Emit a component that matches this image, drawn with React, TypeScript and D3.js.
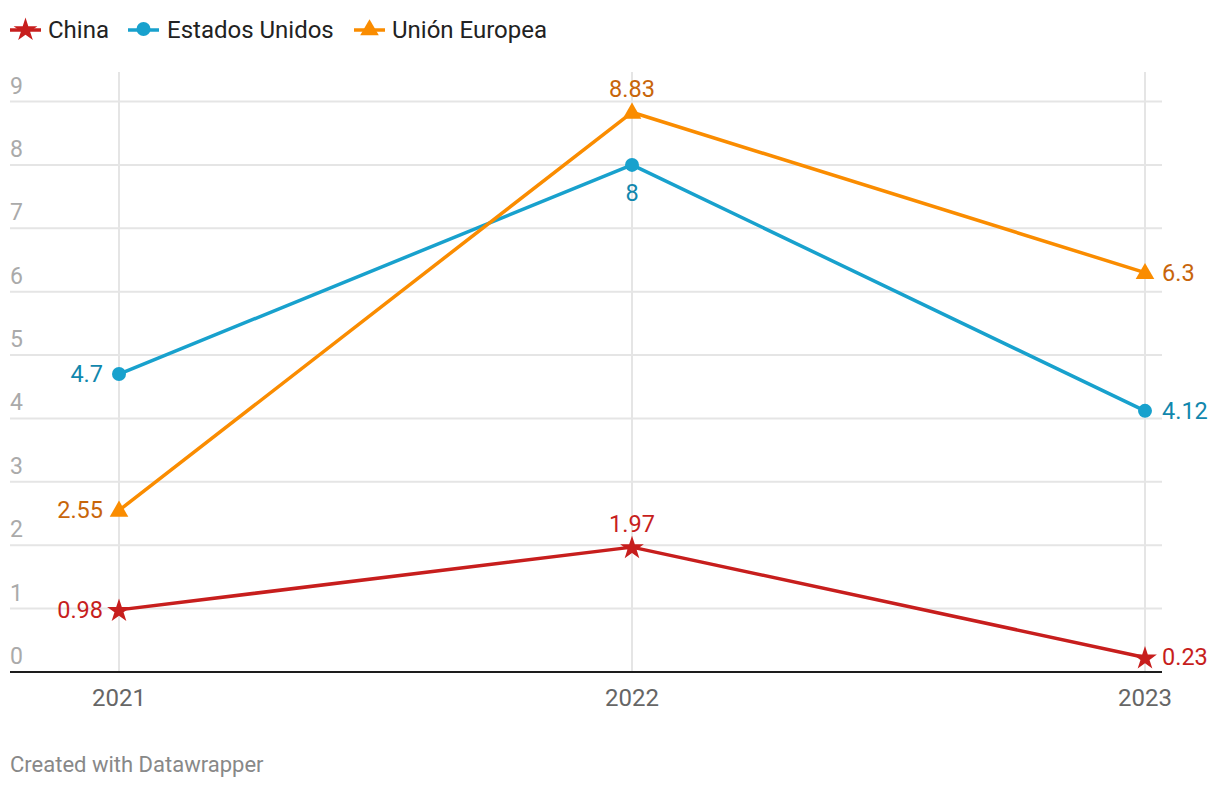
import React from "react";
import * as d3 from "d3";

const years = ["2021", "2022", "2023"];
const china = [0.98, 1.97, 0.23];
const usa = [4.7, 8, 4.12];
const eu = [2.55, 8.83, 6.3];
const yTicks = [0, 1, 2, 3, 4, 5, 6, 7, 8, 9];
const seriesNames = ["China", "Estados Unidos", "Unión Europea"];

const W = 1220;
const H = 788;
const FONT = "Roboto, 'Noto Sans', sans-serif";

type Pos = "left" | "right" | "above" | "below";

const series = [
  { name: seriesNames[0], values: china, line: "#c71e1d", label: "#c71e1d", marker: "star", pos: ["left", "above", "right"] as Pos[] },
  { name: seriesNames[1], values: usa, line: "#18a1cd", label: "#1187ad", marker: "circle", pos: ["left", "below", "right"] as Pos[] },
  { name: seriesNames[2], values: eu, line: "#fa8c00", label: "#c8650a", marker: "triangle", pos: ["left", "above", "right"] as Pos[] },
];

function Marker({ type, x, y, color }: { type: string; x: number; y: number; color: string }) {
  if (type === "circle") return <circle cx={x} cy={y} r={7} fill={color} />;
  if (type === "star") {
    const p = d3.symbol(d3.symbolStar, 175)() as string;
    return <path d={p} transform={`translate(${x},${y + 1})`} fill={color} />;
  }
  const p = d3.symbol(d3.symbolTriangle, 150)() as string;
  return <path d={p} transform={`translate(${x},${y + 1})`} fill={color} />;
}

export default function App() {
  const x = d3.scalePoint<string>().domain(years).range([119, 1145]);
  const y = d3.scaleLinear().domain([0, 9]).range([672, 101.5]);
  const line = d3
    .line<number>()
    .x((_, i) => x(years[i]) as number)
    .y((v) => y(v));

  const legendItems = [
    { x0: 10, tx: 48 },
    { x0: 128, tx: 167 },
    { x0: 354, tx: 392 },
  ];

  return (
    <svg width={W} height={H} style={{ position: "absolute", left: 0, top: 0, background: "#fff" }} fontFamily={FONT}>
      <rect width={W} height={H} fill="#fff" />
      {/* legend */}
      {series.map((s, i) => (
        <g key={s.name}>
          <line x1={legendItems[i].x0} x2={legendItems[i].x0 + 31} y1={30} y2={30} stroke={s.line} strokeWidth={3.5} />
          <Marker type={s.marker} x={legendItems[i].x0 + 15.5} y={29} color={s.line} />
          <text x={legendItems[i].tx} y={38} fontSize={24} fill="#222">
            {s.name}
          </text>
        </g>
      ))}
      {/* vertical grid */}
      {years.map((yr) => (
        <line key={yr} x1={x(yr)} x2={x(yr)} y1={72} y2={672} stroke="#e5e5e5" strokeWidth={2} />
      ))}
      {/* horizontal grid */}
      {yTicks.filter((t) => t > 0).map((t) => (
        <line key={t} x1={10} x2={1162} y1={y(t)} y2={y(t)} stroke="#e5e5e5" strokeWidth={2} />
      ))}
      {yTicks.map((t) => (
        <text key={"l" + t} x={10} y={y(t) - 8} fontSize={23} fill="#aaaaaa">
          {t}
        </text>
      ))}
      <line x1={10} x2={1162} y1={672} y2={672} stroke="#1d1d1d" strokeWidth={2} />
      {years.map((yr) => (
        <text key={"x" + yr} x={x(yr)} y={706} fontSize={24} fill="#666" textAnchor="middle">
          {yr}
        </text>
      ))}
      {/* lines */}
      {series.map((s) => (
        <path key={"p" + s.name} d={line(s.values) as string} fill="none" stroke={s.line} strokeWidth={3.5} strokeLinejoin="round" />
      ))}
      {series.map((s) =>
        s.values.map((v, i) => (
          <Marker key={s.name + i} type={s.marker} x={x(years[i]) as number} y={y(v)} color={s.line} />
        ))
      )}
      {/* value labels */}
      {series.map((s) =>
        s.values.map((v, i) => {
          const px = x(years[i]) as number;
          const py = y(v);
          const pos = s.pos[i];
          let tx = px, ty = py + 8, anchor = "middle";
          if (pos === "left") { tx = px - 16; anchor = "end"; }
          if (pos === "right") { tx = px + 17; anchor = "start"; }
          if (pos === "above") { ty = py - 15; }
          if (pos === "below") { ty = py + 36; }
          return (
            <text key={"v" + s.name + i} x={tx} y={ty} fontSize={23.5} fill={s.label} textAnchor={anchor}>
              {String(v)}
            </text>
          );
        })
      )}
      <text x={10} y={772} fontSize={22} fill="#888">
        Created with Datawrapper
      </text>
    </svg>
  );
}
